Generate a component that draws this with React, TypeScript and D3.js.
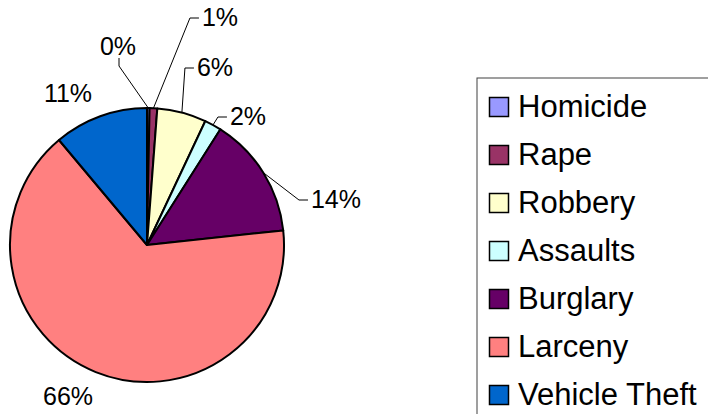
import React from "react";
import * as d3 from "d3";

// Crime share by category (percent of total)
const categories = ["Homicide", "Rape", "Robbery", "Assaults", "Burglary", "Larceny", "Vehicle Theft"];
const shares = [0.3, 0.9, 5.8, 2.0, 14.3, 65.6, 11.1];
const colors = ["#9999FF", "#993366", "#FFFFCC", "#CCFFFF", "#660066", "#FF8080", "#0066CC"];

// label offsets from the pie centre (Excel dragged labels)
const labelOffsets: [number, number][] = [
  [-29, -199],
  [73, -228],
  [68, -178],
  [101, -129],
  [189, -46],
  [-79, 151],
  [-79, -152],
];
const hasLeader = [true, true, true, true, true, false, false];

const width = 708;
const height = 414;
const cx = 147;
const cy = 245;
const radius = 137;
const font = "'Liberation Sans', Arial, sans-serif";

const textWidth = (s: string, size: number) =>
  s.split("").reduce((w, c) => w + (c === "%" ? 0.889 : 0.556), 0) * size;

const App = () => {
  const data = categories.map((name, i) => ({ name, value: shares[i], color: colors[i] }));
  const total = d3.sum(shares);
  const pie = d3.pie<any>().sort(null).value((d) => d.value);
  const arcs = pie(data);
  const arc = d3.arc<any>().innerRadius(0).outerRadius(radius);

  const labelSize = 25;

  // legend layout
  const legendX = 477;
  const legendY = 78;
  const rowGap = 48;
  const firstRow = 107;
  const sq = 19;

  return (
    <svg
      width={width}
      height={height}
      style={{ position: "absolute", left: 0, top: 0, display: "block", background: "#fff" }}
    >
      <g transform={`translate(${cx},${cy})`}>
        {arcs.map((a, i) => (
          <path key={i} d={arc(a) as string} fill={a.data.color} stroke="#000" strokeWidth={2} strokeLinejoin="round" />
        ))}
        {arcs.map((a, i) => {
          const pct = Math.round((a.data.value / total) * 100) + "%";
          const [lx, ly] = labelOffsets[i];
          const w = textWidth(pct, labelSize);
          let leader = null;
          if (hasLeader[i]) {
            const mid = (a.startAngle + a.endAngle) / 2;
            const ex = Math.sin(mid) * radius;
            const ey = -Math.cos(mid) * radius;
            let pts: [number, number][];
            if (lx < ex) {
              // tick hangs under the label
              pts = [[lx + 1, ly + 12], [lx + 1, ly + 20], [ex, ey]];
            } else {
              const left = lx - w / 2;
              pts = [[left - 3, ly + 1], [left - 12, ly + 1], [ex, ey]];
            }
            leader = <path d={d3.line()(pts) as string} fill="none" stroke="#000" strokeWidth={1} />;
          }
          return (
            <g key={"l" + i}>
              {leader}
              <text x={lx} y={ly + 9} textAnchor="middle" fontFamily={font} fontSize={labelSize} fill="#000">
                {pct}
              </text>
            </g>
          );
        })}
      </g>

      <rect x={legendX} y={legendY} width={260} height={360} fill="#fff" stroke="#404040" strokeWidth={1} />
      {categories.map((c, i) => {
        const y = firstRow + i * rowGap;
        return (
          <g key={c}>
            <rect x={489.5} y={y - sq / 2} width={sq} height={sq} fill={colors[i]} stroke="#000" strokeWidth={1.5} />
            <text x={518} y={y + 10} fontFamily={font} fontSize={31} fill="#000">
              {c}
            </text>
          </g>
        );
      })}
    </svg>
  );
};

export default App;
